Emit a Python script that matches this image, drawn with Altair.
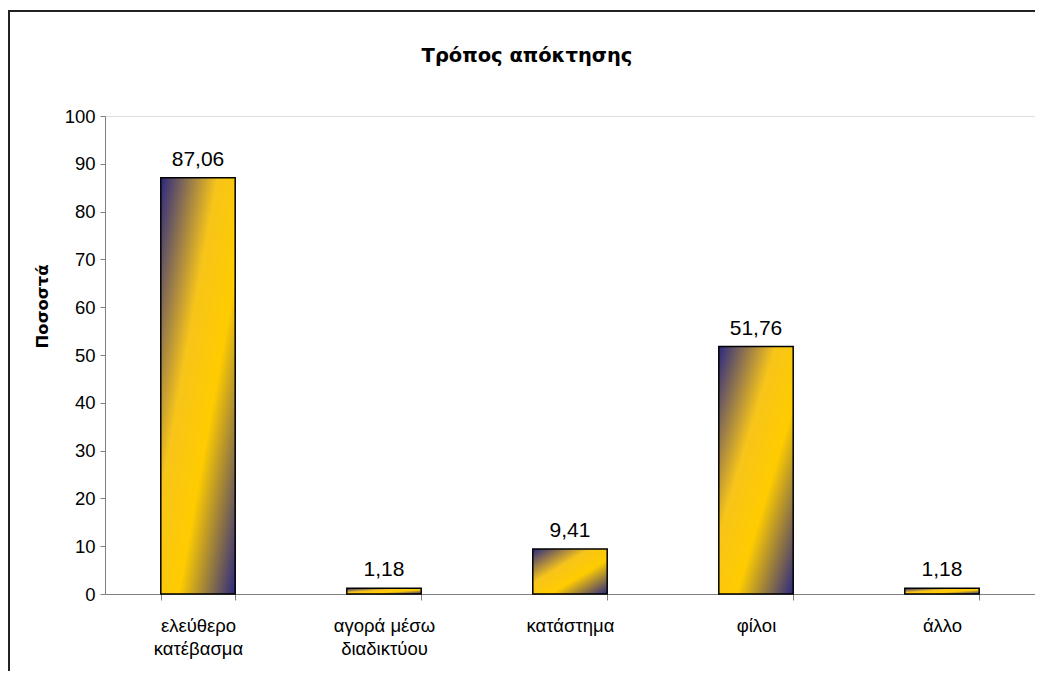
import altair as alt
import pandas as pd

title_text = ["Τρόπος απόκτησης"]
categories = ["ελεύθερο\nκατέβασμα", "αγορά μέσω\nδιαδικτύου", "κατάστημα", "φίλοι", "άλλο"]
values = [87.06, 1.18, 9.41, 51.76, 1.18]
labels = [f"{v:.2f}".replace(".", ",") for v in values]
y_ticks = list(range(0, 101, 10))

df = pd.DataFrame({"cat": categories, "val": values, "lab": labels})

W, H = 930, 478

grad = alt.LinearGradient(
    gradient="linear",
    stops=[
        alt.GradientStop(color="#2b2880", offset=0),
        alt.GradientStop(color="#f7c41a", offset=0.38),
        alt.GradientStop(color="#ffcc00", offset=0.62),
        alt.GradientStop(color="#2b2880", offset=1),
    ],
    x1=0, y1=0, x2=1, y2=1,
)

x_enc = alt.X(
    "cat:N", sort=categories, title=None,
    scale=alt.Scale(paddingInner=0.6, paddingOuter=0.3),
    axis=alt.Axis(
        labelAngle=0, labelExpr="split(datum.label, '\\n')",
        labelFont="Liberation Sans", labelFontSize=18.5, labelColor="black",
        labelPadding=16, labelLineHeight=23, labelBaseline="top",
        tickBand="extent", tickSize=6, tickColor="#808080",
        domainColor="#808080", grid=False,
    ),
)
y_enc = alt.Y(
    "val:Q", title="Ποσοστά",
    scale=alt.Scale(domain=[0, 100], nice=False),
    axis=alt.Axis(
        values=y_ticks, grid=False, tickSize=5, tickColor="#808080",
        domainColor="#808080", labelFont="Liberation Sans", labelFontSize=18.5,
        labelColor="black", labelPadding=5,
        titleFont="DejaVu Sans", titleFontSize=16.5, titleFontWeight="bold",
        titleColor="black", titleX=-55, titleY=190, titleAlign="center",
        titleBaseline="bottom", titleAngle=-90,
    ),
)

bars = alt.Chart(df).mark_bar(color=grad, stroke="black", strokeWidth=1.5).encode(
    x=x_enc, y=y_enc
)
text = alt.Chart(df).mark_text(
    font="Liberation Sans", fontSize=21, color="black", baseline="bottom", dy=-8
).encode(x=alt.X("cat:N", sort=categories), y="val:Q", text="lab:N")

one = pd.DataFrame({"f": [1]})
frame_top = alt.Chart(one).mark_rule(color="#222222", strokeWidth=2).encode(
    x=alt.value(-97), x2=alt.value(W + 150), y=alt.value(-105)
)
frame_left = alt.Chart(one).mark_rule(color="#222222", strokeWidth=2).encode(
    x=alt.value(-96), y=alt.value(-106), y2=alt.value(H + 200)
)

title = alt.Chart(pd.DataFrame({"t": title_text})).mark_text(
    font="DejaVu Sans", fontSize=19.5, fontWeight="bold", color="black",
    align="center", baseline="alphabetic",
).encode(x=alt.value(422), y=alt.value(-54), text="t:N")

chart = alt.layer(frame_top, frame_left, bars, text, title).properties(
    width=W, height=H,
    autosize=alt.AutoSizeParams(type="none"),
    padding={"left": 97, "top": 108, "right": 0, "bottom": 77},
).configure_view(stroke=None).configure(background="white")

chart.save("out.html", embed_options={"renderer": "svg", "actions": False})
